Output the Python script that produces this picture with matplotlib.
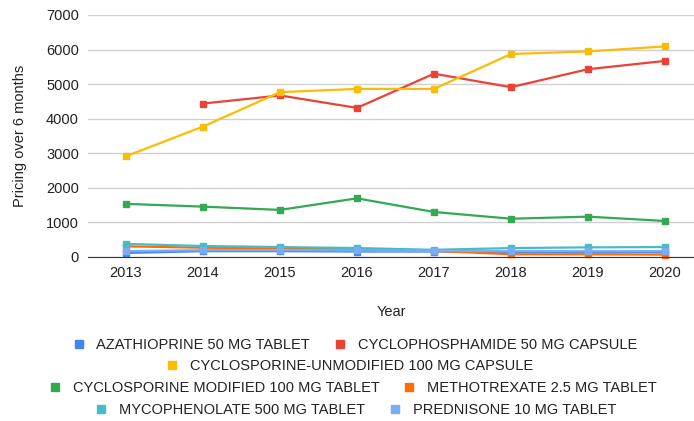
import matplotlib.pyplot as plt
from matplotlib.lines import Line2D

plt.rcParams["font.family"] = ["Liberation Sans", "DejaVu Sans"]

years = [2013, 2014, 2015, 2016, 2017, 2018, 2019, 2020]

azathioprine = [110, 160, 160, 150, 150, 130, 130, 130]
cyclophosphamide = [None, 4435, 4670, 4310, 5300, 4910, 5430, 5670]
cyclosporine_unmod = [2910, 3770, 4765, 4860, 4860, 5870, 5945, 6090]
cyclosporine_mod = [1530, 1450, 1355, 1690, 1295, 1100, 1160, 1035]
methotrexate = [300, 260, 240, 220, 170, 70, 70, 60]
mycophenolate = [370, 310, 280, 250, 200, 250, 270, 280]
prednisone = [160, 190, 190, 180, 170, 160, 160, 160]

names = ["AZATHIOPRINE 50 MG TABLET", "CYCLOPHOSPHAMIDE 50 MG CAPSULE",
         "CYCLOSPORINE-UNMODIFIED 100 MG CAPSULE", "CYCLOSPORINE MODIFIED 100 MG TABLET",
         "METHOTREXATE 2.5 MG TABLET", "MYCOPHENOLATE 500 MG TABLET", "PREDNISONE 10 MG TABLET"]
series = [azathioprine, cyclophosphamide, cyclosporine_unmod, cyclosporine_mod,
          methotrexate, mycophenolate, prednisone]
colors = ["#4285F4", "#EA4335", "#FBBC04", "#34A853", "#FF6D01", "#46BDC6", "#7BAAF7"]

fs = 10.5
fig = plt.figure(figsize=(6.94, 4.21), dpi=100)
ax = fig.add_axes([88 / 694, 1 - 256.7 / 421, (694 - 88) / 694, (256.7 - 15) / 421])

for vals, col in zip(series, colors):
    xs = [y for y, v in zip(years, vals) if v is not None]
    ys = [v for v in vals if v is not None]
    ax.plot(xs, ys, color=col, linewidth=1.6, marker="s", markersize=5, clip_on=False)

ax.set_xlim(2012.506, 2020.377)
ax.set_ylim(0, 7000)
ax.set_yticks(range(0, 7001, 1000))
ax.set_xticks(years)
ax.grid(axis="y", color="#d0d0d0", linewidth=1)
ax.set_axisbelow(True)
for s in ["top", "right", "left"]:
    ax.spines[s].set_visible(False)
ax.spines["bottom"].set_color("#333333")
ax.tick_params(length=0, labelsize=fs, colors="#222222", pad=6.5)
ax.set_ylabel("Pricing over 6 months", fontsize=fs, color="#222222", labelpad=14)
ax.set_xlabel("Year", fontsize=fs, color="#222222", labelpad=18)


def handle(col):
    return Line2D([], [], linestyle="none", marker="s", markersize=6, color=col)


# legend rows: (series indices, centre x px, centre y px)
rows = [([0, 1], 355, 345), ([2], 350, 366), ([3, 4], 353, 388), ([5, 6], 356, 410)]
for idx, cx, cy in rows:
    leg = fig.legend([handle(colors[i]) for i in idx], [names[i] for i in idx],
                     loc="center", bbox_to_anchor=(cx / 694, 1 - cy / 421),
                     ncol=len(idx), frameon=False, fontsize=fs,
                     handlelength=0.8, handletextpad=0.83, columnspacing=1.65,
                     borderpad=0, borderaxespad=0)
    for t in leg.get_texts():
        t.set_color("#222222")

fig.savefig("out.png", dpi=100)
